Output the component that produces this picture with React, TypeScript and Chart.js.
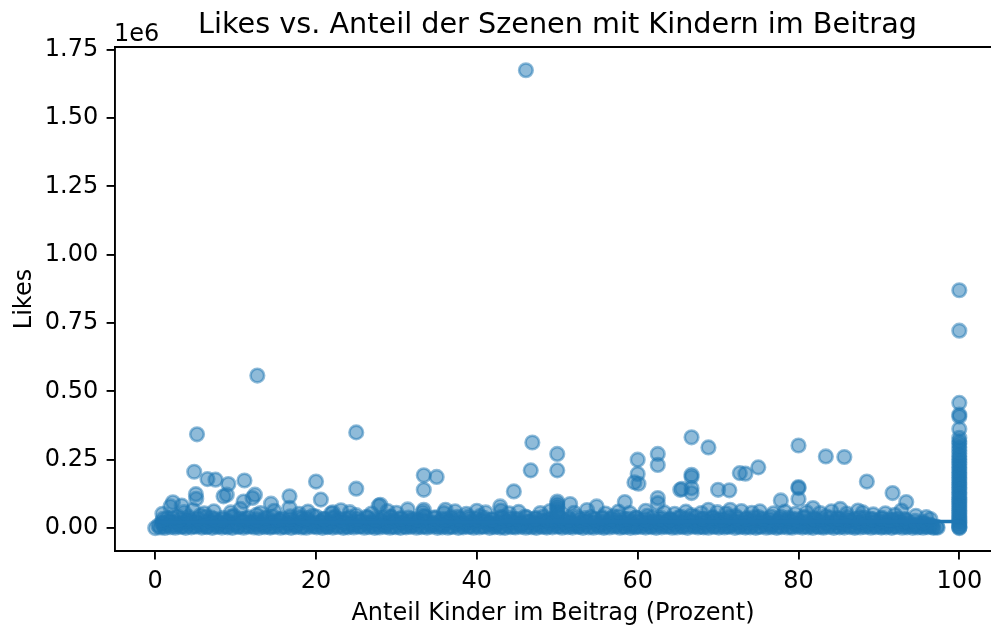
import React, { useEffect, useRef } from 'react';
import { Chart, registerables } from 'chart.js';

Chart.register(...registerables);

const W = 991;
const H = 626;

const titleText = 'Likes vs. Anteil der Szenen mit Kindern im Beitrag';
const xLabel = 'Anteil Kinder im Beitrag (Prozent)';
const yLabel = 'Likes';
const xTicks = [0, 20, 40, 60, 80, 100];
const yTicks = [0, 250000, 500000, 750000, 1000000, 1250000, 1500000, 1750000];

// [Anteil %, Likes] — clearly separated posts
const outliers: [number, number][] = [
  [46.1, 1675000], [12.7, 558000], [5.2, 343000], [25.0, 350000], [4.85, 206000],
  [6.5, 179000], [7.5, 177000], [9.1, 161000], [11.1, 174000], [20.0, 170000],
  [25.0, 144000], [5.06, 124000], [5.1, 107000], [8.5, 116000], [8.9, 122000],
  [12.4, 122000], [12.1, 110000], [11.0, 97000], [14.4, 89000], [16.7, 116000],
  [16.7, 74000], [20.6, 104000], [2.2, 94000], [1.9, 79000], [3.3, 82000],
  [27.8, 82000], [22.1, 57000], [46.9, 313000], [46.7, 211000], [50.0, 271000],
  [50.0, 211000], [33.4, 193000], [35.0, 187000], [33.4, 140000], [44.6, 134000],
  [60.0, 250000], [60.0, 198000], [59.6, 167000], [60.1, 162000], [62.5, 271000],
  [62.5, 231000], [58.4, 95000], [62.5, 110000], [62.5, 91000], [65.3, 140000],
  [33.4, 67000], [42.9, 79000], [40.0, 63000], [36.1, 67000], [28.0, 85000],
  [54.9, 79000], [51.6, 88000], [50.0, 97000], [50.0, 88000], [50.0, 80000],
  [50.0, 72000], [50.0, 62000], [50.0, 55000], [66.7, 332000], [68.8, 295000],
  [80.0, 302000], [83.4, 262000], [85.7, 260000], [66.7, 195000], [66.7, 187000],
  [66.7, 146000], [66.7, 128000], [65.5, 143000], [70.0, 140000], [71.4, 138000],
  [72.7, 201000], [73.4, 199000], [75.0, 222000], [80.0, 150000], [80.0, 146000],
  [80.0, 106000], [77.8, 101000], [88.5, 170000], [91.7, 128000], [93.4, 95000],
  [92.8, 64000], [81.8, 73000], [85.2, 70000], [68.8, 67000], [71.5, 67000],
  [75.2, 61000], [87.4, 64000], [96.4, 33000],
];

// dense mass of posts with few likes
const bandLow: [number, number][] = [
  [0, 0], [0.6, 2000], [1.2, 500], [1.9, 3000], [2.5, 1200], [3.2, 4000], [3.8, 800], [4.5, 2500],
  [5.1, 5000], [5.8, 1500], [6.4, 3500], [7.1, 700], [7.7, 4200], [8.3, 1800], [9.0, 2600], [9.6, 600],
  [10.3, 3800], [11.0, 1300], [11.6, 5200], [12.3, 2200], [12.9, 900], [13.6, 3100], [14.3, 1700],
  [14.9, 4400], [15.6, 1000], [16.2, 2900], [16.9, 600], [17.5, 3600], [18.2, 2000], [18.8, 1100],
  [19.5, 4800], [20.1, 2400], [20.8, 800], [21.4, 3300], [22.1, 1500], [22.7, 4100], [23.4, 700],
  [24.0, 2700], [24.7, 1900], [25.3, 5100], [26.0, 1200], [26.6, 3400], [27.3, 800], [27.9, 2300],
  [28.6, 4600], [29.2, 1400], [29.9, 3000], [30.5, 600], [31.2, 2600], [31.8, 4300], [32.5, 1000],
  [33.1, 3700], [33.8, 1600], [34.4, 5000], [35.1, 900], [35.7, 2800], [36.4, 1300], [37.0, 4000],
  [37.7, 700], [38.3, 2500], [39.0, 3900], [39.6, 1100], [40.3, 2100], [40.9, 4700], [41.6, 800],
  [42.2, 3200], [42.9, 1700], [43.5, 600], [44.2, 3500], [44.8, 2000], [45.5, 4400], [46.1, 1200],
  [46.8, 2900], [47.4, 700], [48.1, 3800], [48.7, 1500], [49.4, 2400], [50.0, 5300], [50.6, 1000],
  [51.3, 3100], [51.9, 1800], [52.6, 4200], [53.2, 800], [53.9, 2700], [54.5, 1400], [55.2, 3600],
  [55.8, 600], [56.5, 2200], [57.1, 4900], [57.8, 1300], [58.4, 3000], [59.1, 900], [59.7, 2500],
  [60.4, 4100], [61.0, 1600], [61.7, 3400], [62.3, 700], [63.0, 2800], [63.6, 4500], [64.3, 1100],
  [64.9, 2300], [65.6, 3700], [66.2, 800], [66.9, 5000], [67.5, 1900], [68.2, 2600], [68.8, 1000],
  [69.5, 3900], [70.1, 1500], [70.8, 2100], [71.4, 4300], [72.1, 900], [72.7, 3200], [73.4, 1700],
  [74.0, 2400], [74.7, 700], [75.3, 4600], [76.0, 1300], [76.6, 2900], [77.3, 600], [77.9, 3500],
  [78.6, 2000], [79.2, 1200], [79.9, 4200], [80.5, 1600], [81.2, 2800], [81.8, 800], [82.5, 3300],
  [83.1, 1400], [83.8, 4000], [84.4, 900], [85.1, 2500], [85.7, 1800], [86.4, 3600], [87.0, 700],
  [87.7, 2200], [88.3, 4100], [89.0, 1100], [89.6, 3000], [90.3, 1500], [90.9, 2400], [91.6, 600],
  [92.2, 3800], [92.9, 1300], [93.5, 2700], [94.2, 900], [94.8, 2000], [95.5, 1400], [96.1, 3100],
  [96.8, 700], [97.3, 1800],
];

const bandLow2: [number, number][] = [
  [0.4, 9000], [1.1, 7000], [1.8, 10500], [2.6, 8000], [3.4, 6500], [4.1, 11000], [4.9, 7500], [5.7, 9500],
  [6.5, 6000], [7.3, 10000], [8.0, 8500], [8.8, 7000], [9.6, 11000], [10.4, 6500], [11.2, 9000], [12.0, 7500],
  [12.8, 10500], [13.6, 8000], [14.4, 6000], [15.2, 9500], [16.0, 7000], [16.7, 11000], [17.5, 8500],
  [18.3, 6500], [19.1, 10000], [19.9, 7500], [20.7, 9000], [21.5, 6000], [22.3, 10500], [23.1, 8000],
  [23.9, 7000], [24.7, 9500], [25.5, 6500], [26.3, 11000], [27.1, 7500], [27.9, 9000], [28.7, 8000],
  [29.5, 6000], [30.3, 10000], [31.1, 7000], [31.9, 9500], [32.7, 8500], [33.5, 6500], [34.3, 10500],
  [35.1, 7500], [35.9, 9000], [36.7, 6000], [37.5, 11000], [38.3, 8000], [39.1, 7000], [39.9, 9500],
  [40.7, 6500], [41.5, 10000], [42.3, 8500], [43.1, 7000], [43.9, 9000], [44.7, 6000], [45.5, 10500],
  [46.3, 7500], [47.1, 9500], [47.9, 8000], [48.7, 6500], [49.5, 11000], [50.3, 7000], [51.1, 9000],
  [51.9, 8500], [52.7, 6000], [53.5, 10000], [54.3, 7500], [55.1, 9500], [55.9, 6500], [56.7, 10500],
  [57.5, 8000], [58.3, 7000], [59.1, 9000], [59.9, 6000], [60.7, 11000], [61.5, 7500], [62.3, 9500],
  [63.1, 8500], [63.9, 6500], [64.7, 10000], [65.5, 7000], [66.3, 9000], [67.1, 8000], [67.9, 6000],
  [68.7, 10500], [69.5, 7500], [70.3, 9500], [71.1, 6500], [71.9, 11000], [72.7, 8000], [73.5, 7000],
  [74.3, 9000], [75.1, 6000], [75.9, 10000], [76.7, 8500], [77.5, 7000], [78.3, 9500], [79.1, 6500],
  [79.9, 10500], [80.7, 7500], [81.5, 9000], [82.3, 8000], [83.1, 6000], [83.9, 10000], [84.7, 7000],
  [85.5, 9500], [86.3, 8500], [87.1, 6500], [87.9, 10500], [88.7, 7500], [89.5, 9000], [90.3, 6000],
  [91.1, 8000], [91.9, 7000], [92.7, 9000], [93.5, 6500], [94.3, 8000], [95.1, 5500], [95.9, 7000],
  [96.7, 5000], [97.2, 4000],
];

const bandMid: [number, number][] = [
  [1.0, 18000], [2.0, 24000], [3.0, 15000], [4.0, 27000], [5.0, 20000], [6.0, 13000], [7.0, 25000],
  [8.0, 17000], [9.0, 22000], [10.0, 14000], [11.0, 26000], [12.0, 19000], [12.5, 23000], [13.5, 16000],
  [14.5, 21000], [15.5, 28000], [16.7, 18000], [17.5, 12000], [18.5, 24000], [19.5, 17000], [20.5, 22000],
  [21.5, 15000], [22.5, 27000], [23.5, 19000], [24.5, 13000], [25.5, 25000], [26.5, 18000], [27.5, 21000],
  [28.5, 14000], [29.5, 26000], [30.5, 20000], [31.5, 16000], [32.5, 23000], [33.3, 28000], [34.5, 17000],
  [35.5, 12000], [36.5, 24000], [37.5, 19000], [38.5, 15000], [39.5, 22000], [40.5, 27000], [41.5, 18000],
  [42.5, 13000], [43.5, 25000], [44.5, 20000], [45.5, 16000], [46.5, 23000], [47.5, 14000], [48.5, 21000],
  [49.5, 26000], [50.5, 17000], [51.5, 22000], [52.5, 12000], [53.5, 24000], [54.5, 19000], [55.5, 15000],
  [56.5, 27000], [57.5, 18000], [58.5, 21000], [59.5, 13000], [60.5, 25000], [61.5, 17000], [62.5, 22000],
  [63.5, 16000], [64.5, 26000], [65.5, 19000], [66.7, 24000], [67.5, 14000], [68.5, 21000], [69.5, 27000],
  [70.5, 18000], [71.5, 12000], [72.5, 23000], [73.5, 17000], [74.5, 25000], [75.5, 20000], [76.5, 15000],
  [77.5, 22000], [78.5, 26000], [79.5, 16000], [80.5, 21000], [81.5, 13000], [82.5, 24000], [83.5, 18000],
  [84.5, 22000], [85.5, 15000], [86.5, 25000], [87.5, 19000], [88.5, 14000], [89.5, 23000], [90.5, 17000],
  [91.5, 12000], [92.5, 20000], [93.5, 15000], [94.5, 11000], [95.5, 14000], [96.5, 9000],
];

const bandMid2: [number, number][] = [
  [0.8, 20000], [1.7, 23000], [2.6, 19000], [3.5, 25000], [4.4, 21000], [5.3, 18000], [6.2, 24000],
  [7.1, 20000], [8.0, 22000], [9.0, 26000], [9.9, 19000], [10.8, 23000], [11.7, 21000], [12.6, 18000],
  [13.5, 25000], [14.4, 20000], [15.3, 22000], [16.3, 19000], [17.2, 24000], [18.1, 21000], [19.0, 26000],
  [19.9, 18000], [20.8, 23000], [21.7, 20000], [22.6, 25000], [23.6, 19000], [24.5, 22000], [25.4, 24000],
  [26.3, 18000], [27.2, 21000], [28.1, 26000], [29.0, 20000], [29.9, 23000], [30.9, 19000], [31.8, 25000],
  [32.7, 21000], [33.6, 22000], [34.5, 18000], [35.4, 24000], [36.3, 20000], [37.2, 26000], [38.2, 19000],
  [39.1, 23000], [40.0, 21000], [40.9, 25000], [41.8, 18000], [42.7, 22000], [43.6, 20000], [44.5, 24000],
  [45.5, 19000], [46.4, 23000], [47.3, 21000], [48.2, 26000], [49.1, 18000], [50.0, 22000], [50.9, 25000],
  [51.8, 20000], [52.8, 19000], [53.7, 24000], [54.6, 21000], [55.5, 23000], [56.4, 18000], [57.3, 26000],
  [58.2, 20000], [59.1, 22000], [60.0, 25000], [61.0, 19000], [61.9, 23000], [62.8, 21000], [63.7, 24000],
  [64.6, 18000], [65.5, 22000], [66.4, 26000], [67.3, 20000], [68.3, 23000], [69.2, 19000], [70.1, 25000],
  [71.0, 21000], [71.9, 22000], [72.8, 18000], [73.7, 24000], [74.6, 20000], [75.6, 26000], [76.5, 19000],
  [77.4, 23000], [78.3, 21000], [79.2, 25000], [80.1, 18000], [81.0, 22000], [81.9, 20000], [82.9, 24000],
  [83.8, 19000], [84.7, 23000], [85.6, 21000], [86.5, 26000], [87.4, 18000], [88.3, 22000], [89.2, 20000],
  [90.2, 24000], [91.1, 19000], [92.0, 21000], [92.9, 17000], [93.8, 19000], [94.7, 14000], [95.6, 16000],
  [96.4, 12000],
];

const bandHigh: [number, number][] = [
  [1.5, 36000], [2.8, 42000], [4.2, 33000], [5.6, 46000], [7.0, 38000], [8.4, 31000], [9.8, 44000],
  [11.2, 35000], [12.6, 48000], [14.0, 37000], [15.4, 32000], [16.8, 43000], [18.2, 36000], [19.6, 45000],
  [21.0, 33000], [22.4, 40000], [23.8, 34000], [25.0, 47000], [26.4, 38000], [27.8, 31000], [29.2, 42000],
  [30.6, 36000], [32.0, 33000], [33.4, 45000], [34.8, 39000], [36.2, 32000], [37.6, 41000], [39.0, 35000],
  [40.4, 44000], [41.8, 31000], [43.2, 38000], [44.6, 34000], [46.0, 42000], [47.4, 36000], [48.8, 30000],
  [50.0, 46000], [51.4, 37000], [52.8, 32000], [54.2, 40000], [55.6, 35000], [57.0, 43000], [58.4, 33000],
  [59.8, 38000], [61.2, 45000], [62.6, 36000], [64.0, 31000], [65.4, 41000], [66.7, 47000], [68.0, 34000],
  [69.4, 39000], [70.8, 32000], [72.2, 44000], [73.6, 36000], [75.0, 40000], [76.4, 31000], [77.8, 42000],
  [79.2, 35000], [80.6, 38000], [82.0, 33000], [83.4, 43000], [84.8, 36000], [86.2, 31000], [87.6, 39000],
  [89.0, 34000], [90.4, 37000], [91.8, 30000], [93.2, 33000],
];

const bandHigh2: [number, number][] = [
  [1.0, 34000], [2.1, 38000], [3.1, 32000], [4.2, 40000], [5.3, 35000], [6.3, 41000], [7.4, 33000],
  [8.4, 37000], [9.5, 42000], [10.5, 34000], [11.6, 39000], [12.6, 32000], [13.7, 38000], [14.7, 41000],
  [15.8, 35000], [16.8, 33000], [17.9, 40000], [18.9, 36000], [20.0, 42000], [21.0, 34000], [22.1, 38000],
  [23.1, 32000], [24.2, 39000], [25.2, 35000], [26.3, 41000], [27.3, 33000], [28.4, 37000], [29.4, 40000],
  [30.5, 34000], [31.5, 38000], [32.6, 32000], [33.6, 41000], [34.7, 36000], [35.7, 33000], [36.8, 39000],
  [37.8, 35000], [38.9, 42000], [39.9, 34000], [40.9, 37000], [42.0, 32000], [43.0, 40000], [44.1, 36000],
  [45.1, 33000], [46.2, 39000], [47.2, 35000], [48.3, 41000], [49.3, 34000], [50.4, 38000], [51.4, 32000],
  [52.5, 40000], [53.5, 36000], [54.6, 33000], [55.6, 39000], [56.7, 35000], [57.7, 42000], [58.8, 34000],
  [59.8, 37000], [60.9, 32000], [61.9, 40000], [63.0, 36000], [64.0, 33000], [65.1, 39000], [66.1, 35000],
  [67.2, 41000], [68.2, 34000], [69.3, 38000], [70.3, 32000], [71.4, 40000], [72.4, 36000], [73.5, 33000],
  [74.5, 39000], [75.6, 35000], [76.6, 41000], [77.7, 34000], [78.7, 37000], [79.8, 32000], [80.8, 40000],
  [81.9, 36000], [82.9, 33000], [84.0, 38000], [85.0, 35000], [86.1, 40000], [87.1, 33000], [88.2, 37000],
  [89.2, 32000], [90.3, 35000], [91.3, 31000], [92.4, 34000], [93.4, 29000], [94.5, 26000], [95.5, 22000],
];

const aboveBand: [number, number][] = [
  [0.9, 52000], [3.6, 58000], [4.7, 66000], [6.1, 54000], [7.3, 61000], [9.4, 57000], [10.6, 70000],
  [13.1, 55000], [14.8, 63000], [17.9, 52000], [19.0, 60000], [21.9, 54000], [23.1, 65000], [24.2, 58000],
  [26.9, 53000], [28.9, 62000], [30.0, 56000], [31.4, 68000], [33.3, 58000], [35.9, 55000], [37.3, 61000],
  [38.7, 52000], [41.1, 57000], [43.0, 64000], [44.0, 54000], [45.2, 59000], [47.9, 55000], [49.1, 62000],
  [52.1, 56000], [53.7, 66000], [56.0, 53000], [57.6, 60000], [59.0, 55000], [61.0, 63000], [63.3, 57000],
  [64.6, 52000], [66.0, 60000], [67.9, 55000], [69.9, 58000], [71.0, 53000], [72.9, 62000], [74.2, 56000],
  [76.9, 54000], [78.3, 60000], [79.6, 52000], [81.0, 58000], [82.7, 55000], [84.1, 61000], [86.0, 53000],
  [88.0, 57000], [89.3, 50000], [90.8, 54000], [92.0, 48000], [94.6, 45000], [95.9, 40000],
];

// posts where 100 % of scenes show children
const full100Likes = [
  870000, 722000, 458000, 415000, 408000, 362000, 330000, 318000, 308000, 296000, 285000,
  272000, 262000, 252000, 242000, 232000, 222000, 212000, 203000, 194000, 185000, 176000,
  167000, 158000, 149000, 140000, 131000, 122000, 113000, 104000, 96000, 88000, 80000,
  72000, 64000, 56000, 48000, 40000, 33000, 26000, 19000, 12000, 6000, 2000, 0,
];

// fitted trend line
const trendX = [0, 100];
const trendY = [22000, 24000];

const FONT = 'DejaVu Sans';
const BLUE = '#1f77b4';
const BLUE_A = 'rgba(31,119,180,0.5)';

const decor = {
  id: 'decor',
  afterDraw(chart: any) {
    const { ctx, chartArea } = chart;
    ctx.save();
    ctx.strokeStyle = '#000';
    ctx.lineWidth = 1.9;
    ctx.beginPath();
    ctx.moveTo(chartArea.left - 0.95, chartArea.top);
    ctx.lineTo(chartArea.right, chartArea.top);
    ctx.stroke();
    ctx.fillStyle = '#000';
    ctx.textBaseline = 'alphabetic';
    ctx.font = `28.7px "${FONT}"`;
    ctx.textAlign = 'center';
    ctx.fillText(titleText, 557.5, 33);
    ctx.font = `24px "${FONT}"`;
    ctx.textAlign = 'left';
    ctx.fillText('1e6', 114, 41);
    ctx.restore();
  },
};

export default function App() {
  const ref = useRef<HTMLCanvasElement>(null);
  useEffect(() => {
    const canvas = ref.current;
    if (!canvas) return;
    const pts = (arr: [number, number][]) => arr.map(([x, y]) => ({ x, y }));
    const scatterData = [
      ...pts(bandLow), ...pts(bandLow2), ...pts(bandMid), ...pts(bandMid2), ...pts(bandHigh),
      ...pts(bandHigh2), ...pts(aboveBand), ...pts(outliers),
      ...full100Likes.map((y) => ({ x: 100, y })),
    ];
    const tickFont = { family: FONT, size: 24 };
    const chart = new Chart(canvas, {
      type: 'scatter',
      data: {
        datasets: [
          {
            type: 'line',
            data: trendX.map((x, i) => ({ x, y: trendY[i] })),
            borderColor: BLUE,
            borderWidth: 3.6,
            pointRadius: 0,
            fill: false,
            order: 0,
          } as any,
          {
            data: scatterData,
            backgroundColor: BLUE_A,
            borderColor: BLUE_A,
            borderWidth: 2.6,
            pointRadius: 6.8,
            order: 1,
          },
        ],
      },
      options: {
        responsive: false,
        devicePixelRatio: 1,
        animation: false,
        layout: { autoPadding: false, padding: { top: 47, left: 0, right: 0, bottom: 0 } },
        plugins: { legend: { display: false }, tooltip: { enabled: false }, title: { display: false } },
        scales: {
          x: {
            type: 'linear',
            min: -5,
            max: 103.94,
            afterBuildTicks: (s: any) => { s.ticks = xTicks.map((v) => ({ value: v })); },
            afterFit: (s: any) => { s.height = 75; },
            ticks: { font: tickFont, color: '#000', padding: 8.4, maxRotation: 0, callback: (v: any) => String(v) },
            grid: { display: true, drawOnChartArea: false, drawTicks: true, tickLength: 8.4, color: '#000', lineWidth: 1.9 },
            border: { display: true, color: '#000', width: 1.9 },
            title: { display: true, text: xLabel, font: { family: FONT, size: 24, lineHeight: 1.05 }, color: '#000', padding: { top: 0, bottom: 0 } },
          },
          y: {
            type: 'linear',
            min: -84000,
            max: 1760000,
            afterBuildTicks: (s: any) => { s.ticks = yTicks.map((v) => ({ value: v })); },
            afterFit: (s: any) => { s.width = 115; },
            ticks: { font: tickFont, color: '#000', padding: 8.4, callback: (v: any) => (Number(v) / 1e6).toFixed(2) },
            grid: { display: true, drawOnChartArea: false, drawTicks: true, tickLength: 8.4, color: '#000', lineWidth: 1.9 },
            border: { display: true, color: '#000', width: 1.9 },
            title: { display: true, text: yLabel, font: tickFont, color: '#000', padding: { top: 10.6, bottom: 0 } },
          },
        },
      },
      plugins: [decor],
    } as any);
    return () => chart.destroy();
  }, []);
  return (
    <div style={{ position: 'fixed', left: 0, top: 0, width: W, height: H, background: '#fff' }}>
      <canvas ref={ref} width={W} height={H} style={{ width: W, height: H, display: 'block' }} />
    </div>
  );
}
